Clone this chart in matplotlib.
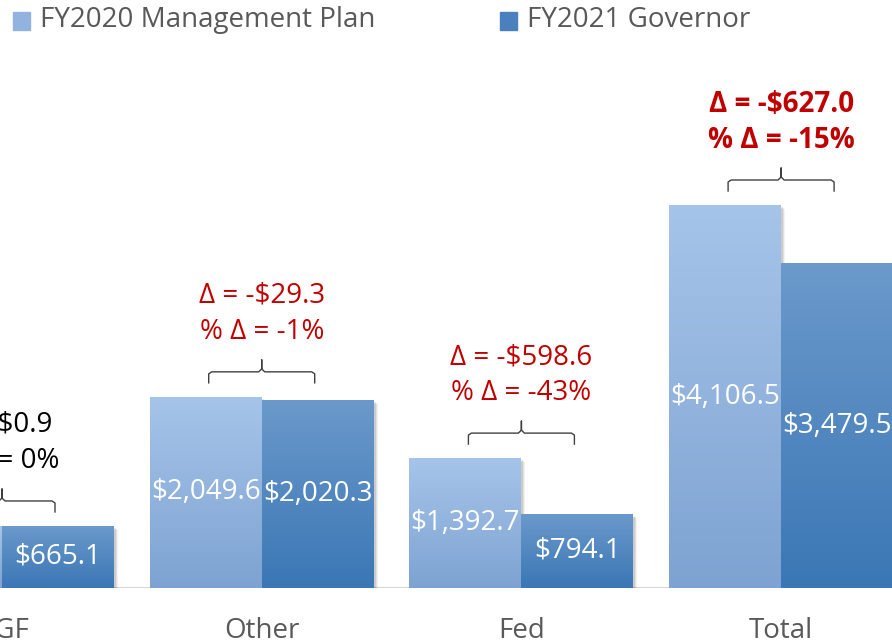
import matplotlib.pyplot as plt
import numpy as np
from matplotlib.colors import LinearSegmentedColormap

plt.rcParams['font.family'] = ['Open Sans', 'DejaVu Sans']

# Data
categories = ['UGF', 'Other', 'Fed', 'Total']
fy2020 = [664.2, 2049.6, 1392.7, 4106.5]
fy2021 = [665.1, 2020.3, 794.1, 3479.5]
delta_labels = ['Δ = $0.9', 'Δ = -$29.3', 'Δ = -$598.6', 'Δ = -$627.0']
pct_labels = ['% Δ = 0%', '% Δ = -1%', '% Δ = -43%', '% Δ = -15%']
series_names = ['FY2020 Management Plan', 'FY2021 Governor']

W, H = 892, 643
fig = plt.figure(figsize=(W / 100, H / 100), dpi=100)
base_px = 588          # baseline in pixels from top
ax = fig.add_axes([0, (H - base_px) / H, 1, base_px / H])

x = np.arange(len(categories))
px_per_cat = 259.7
xmin = -2 / px_per_cat
xmax = xmin + W / px_per_cat
ymax = 4106.5 * base_px / 383
ax.set_xlim(xmin, xmax)
ax.set_ylim(0, ymax)
dx = 1 / px_per_cat          # one pixel in data x
dy = ymax / base_px          # one pixel in data y

bw = 112 / px_per_cat
grads = [('#a6c4e9', '#7ea3d2'), ('#6b99cb', '#3b77b5')]
legend_cols = ['#92b3e0', '#4a80bd']
fs = 20


def grad_bar(x0, h, cols):
    # soft shadow
    for k, a in [(4, 0.05), (3, 0.07), (2, 0.09)]:
        ax.add_patch(plt.Rectangle((x0 + k * dx, -k * dy), bw, h, color='black',
                                   alpha=a, lw=0, zorder=1))
    rect = plt.Rectangle((x0, 0), bw, h, facecolor='none', lw=0, zorder=2)
    ax.add_patch(rect)
    cmap = LinearSegmentedColormap.from_list('g', [cols[1], cols[0]])
    img = ax.imshow(np.linspace(0, 1, 100).reshape(-1, 1), cmap=cmap,
                    extent=[x0, x0 + bw, 0, h], origin='lower', aspect='auto',
                    zorder=2)
    img.set_clip_path(rect)


for i in range(len(categories)):
    grad_bar(x[i] - bw, fy2020[i], grads[0])
    grad_bar(x[i], fy2021[i], grads[1])
    for xc, v in [(x[i] - bw / 2, fy2020[i]), (x[i] + bw / 2, fy2021[i])]:
        ax.text(xc, v / 2, f'${v:,.1f}', ha='center', va='center', color='white',
                fontsize=fs, zorder=3)

    top = max(fy2020[i], fy2021[i])
    col = 'black' if i == 0 else '#c00000'
    weight = 'bold' if i == 3 else 'normal'
    ax.text(x[i], top + 101 * dy, delta_labels[i], ha='center', va='center',
            color=col, fontsize=fs, fontweight=weight)
    ax.text(x[i], top + 65 * dy, pct_labels[i], ha='center', va='center',
            color=col, fontsize=fs, fontweight=weight)

    # curly brace
    hw = 53 * dx
    bx = [x[i] - hw, x[i] - hw, x[i] - hw + 3 * dx, x[i] - 3 * dx, x[i], x[i],
          x[i], x[i] + 3 * dx, x[i] + hw - 3 * dx, x[i] + hw, x[i] + hw]
    by = [top + 14 * dy, top + 23 * dy, top + 25 * dy, top + 25 * dy, top + 28 * dy,
          top + 37 * dy, top + 28 * dy, top + 25 * dy, top + 25 * dy, top + 23 * dy,
          top + 14 * dy]
    ax.plot(bx, by, color='#404040', lw=1, zorder=3)

ax.axhline(0, color='#d0d0d0', lw=2, zorder=0)
for s in ['top', 'right', 'left', 'bottom']:
    ax.spines[s].set_visible(False)
ax.set_yticks([])
ax.set_xticks(x)
ax.set_xticklabels(categories, fontsize=fs, color='#595959')
ax.tick_params(axis='x', length=0, pad=21)

# legend at top
for px_sq, px_txt, name, c in [(13, 40, series_names[0], legend_cols[0]),
                                (500, 527, series_names[1], legend_cols[1])]:
    fig.patches.append(plt.Rectangle((px_sq / W, 1 - 30 / H), 17 / W, 18 / H,
                                     transform=fig.transFigure, color=c))
    fig.text(px_txt / W, 1 - 20 / H, name, ha='left', va='center', fontsize=fs,
             color='#595959')

fig.savefig('out.png', dpi=100)
